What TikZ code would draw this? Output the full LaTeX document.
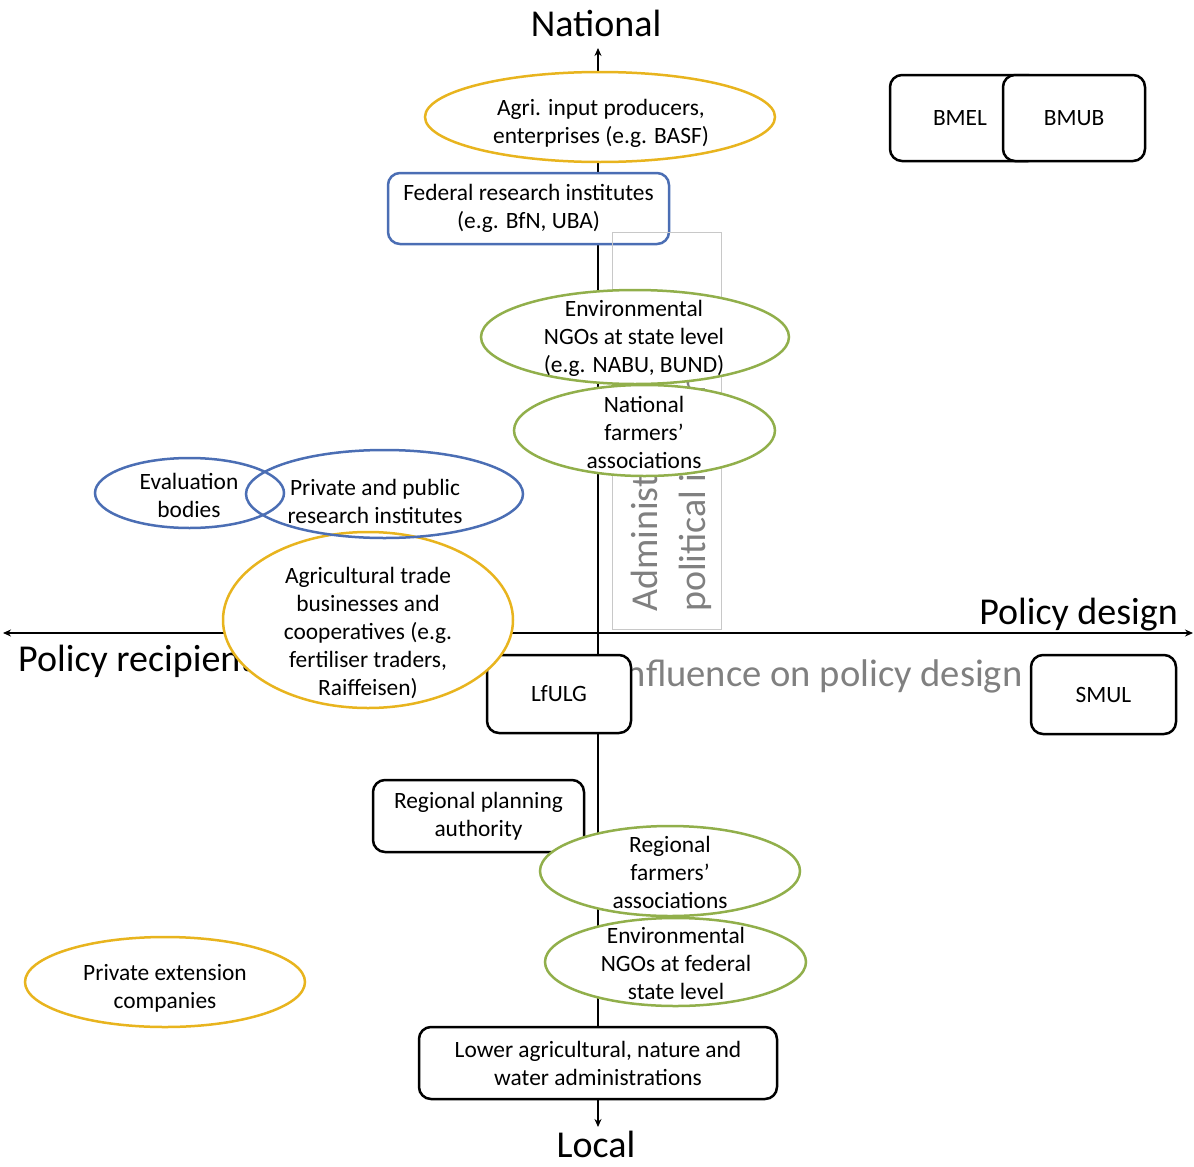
\documentclass[tikz,border=0pt]{standalone}
\usepackage{fontspec}
\setmainfont{Carlito}
\usetikzlibrary{shapes.geometric,arrows.meta}
\definecolor{yel}{RGB}{232,180,30}
\definecolor{blu}{RGB}{75,110,180}
\definecolor{grn}{RGB}{145,175,75}
\definecolor{gtext}{RGB}{128,128,128}
\definecolor{gline}{RGB}{200,200,200}
\begin{document}
\begin{tikzpicture}[x=1pt,y=-1pt,
  txt/.style={align=center,font=\fontsize{23.4}{28}\selectfont,inner sep=0pt},
  big/.style={font=\fontsize{38}{46}\selectfont,inner sep=0pt},
  axis/.style={line width=2pt,{Stealth[length=8pt,width=7pt]}-{Stealth[length=8pt,width=7pt]}},
  ell/.style={ellipse,line width=2.5pt,inner sep=0pt},
  yell/.style={ell,draw=yel,fill=white},
  bell/.style={ell,draw=blu,fill=white},
  gell/.style={ell,draw=grn,fill=white},
  box/.style={txt,draw=black,line width=2.5pt,rounded corners=12pt,fill=white}
]
\useasboundingbox (0,0) rectangle (1194,1167);

% axes
\coordinate (vtop) at (598,48);
\coordinate (vbot) at (598,1127);
\coordinate (hleft) at (3,633);
\coordinate (hright) at (1193,633);
\draw[axis] (vtop) -- (vbot);
\draw[axis] (hleft) -- (hright);

% axis labels
\node[big,anchor=base] (national) at (596,36) {National};
\node[big,anchor=base] (local) at (596,1157) {Local};
\node[big,anchor=base east] (pdesign) at (1178,624) {Policy design};
\node[big,anchor=base west] (precip) at (18,671) {Policy recipients};
\node[big,anchor=base west,text=gtext,font=\fontsize{38.6}{46}\selectfont] (infl) at (616,686) {Influence on policy design};

% federal research institutes
\node[box,draw=blu,minimum width=281pt,minimum height=71pt] (fed) at (528.5,208.5) {Federal research institutes\\(e.g. BfN, UBA)};

% grey rotated text box
\node[draw=gline,line width=1pt,minimum width=109pt,minimum height=397pt,inner sep=0pt] (gbox) at (666.5,430.5) {};
\node[big,text=gtext,rotate=90,anchor=base west] (adm) at (657,612) {Administrative};
\node[big,text=gtext,rotate=90,anchor=base west] (pol) at (705,612) {political influence};

% rectangular boxes below ellipses
\node[box,minimum width=144pt,minimum height=78pt] (lfulg) at (559,694) {LfULG};
\node[box,minimum width=145pt,minimum height=79pt] (smul) at (1103.5,694.5) {SMUL};
\node[box,minimum width=150pt,minimum height=86pt] (bmel) at (965,118) {\hspace*{-10pt}BMEL};
\node[box,minimum width=142pt,minimum height=86pt] (bmub) at (1074,118) {BMUB};
\node[box,minimum width=211pt,minimum height=72pt] (rpa) at (478.5,816) {Regional planning\\authority};
\node[box,minimum width=358pt,minimum height=72pt] (lower) at (598,1063) {Lower agricultural, nature and\\water administrations};

% ellipses
\node[yell,minimum width=350pt,minimum height=90pt] (agrin) at (600,117) {};
\node[txt] (agrin-t) at (601,123) {Agri. input producers,\\enterprises (e.g. BASF)};

\node[gell,minimum width=308pt,minimum height=94pt] (envst) at (635,337) {};
\node[txt] (envst-t) at (634,338) {Environmental\\NGOs at state level\\(e.g. NABU, BUND)};

\node[gell,minimum width=261pt,minimum height=91pt] (natf) at (644.5,430.5) {};
\node[txt] (natf-t) at (644,432) {National\\farmers’\\associations};

\node[yell,minimum width=290pt,minimum height=176pt] (trade) at (368,620) {};
\node[txt] (trade-t) at (368,632.5) {Agricultural trade\\businesses and\\cooperatives (e.g.\\fertiliser traders,\\Raiffeisen)};

\node[bell,minimum width=189pt,minimum height=70pt] (eval) at (189.5,493) {};
\node[txt] (eval-t) at (189,495) {Evaluation\\bodies};

\node[ell,draw=blu,minimum width=277pt,minimum height=88pt] (priv) at (384.5,494) {};
\node[txt] (priv-t) at (375,501) {Private and public\\research institutes};

\node[gell,minimum width=260pt,minimum height=90pt] (regf) at (670,871) {};
\node[txt] (regf-t) at (670,872.5) {Regional\\farmers’\\associations};

\node[gell,minimum width=261pt,minimum height=88pt] (envfed) at (675.5,962) {};
\node[txt] (envfed-t) at (676,963.5) {Environmental\\NGOs at federal\\state level};

\node[yell,minimum width=280pt,minimum height=90pt] (ext) at (165,982) {};
\node[txt] (ext-t) at (165,988) {Private extension\\companies};
\end{tikzpicture}
\end{document}
